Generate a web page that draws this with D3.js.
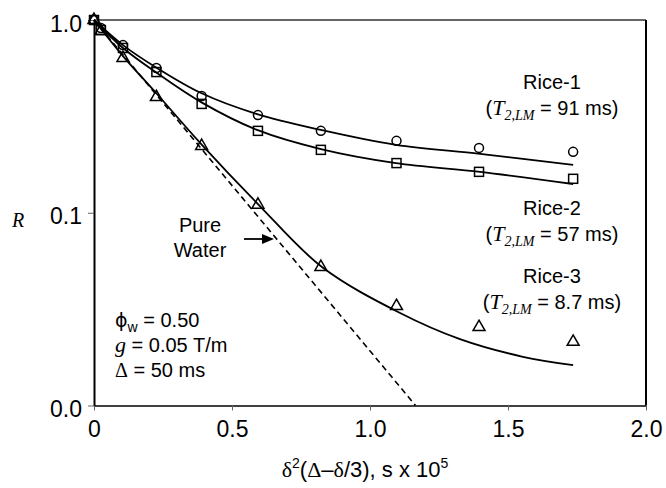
<!DOCTYPE html>
<html><head><meta charset="utf-8">
<script src="https://cdn.jsdelivr.net/npm/d3@7"></script>
<style>body{margin:0;background:#fff}svg{display:block}</style>
</head><body>
<svg id="c" width="666" height="488"></svg>
<script>
// ---- data ----
const xTicks = [0, 0.5, 1.0, 1.5, 2.0];
const xTickLabels = ["0", "0.5", "1.0", "1.5", "2.0"];
const yTicks = [1, 0.1, 0.01];
const yTickLabels = ["1.0", "0.1", "0.0"];

const xData = [0, 0.025, 0.105, 0.226, 0.390, 0.594, 0.822, 1.096, 1.395, 1.736];
const rice1 = [1.0, 0.909, 0.741, 0.564, 0.403, 0.321, 0.266, 0.236, 0.217, 0.207];
const rice2 = [1.0, 0.887, 0.716, 0.537, 0.367, 0.266, 0.212, 0.181, 0.163, 0.150];
const rice3 = [1.0, 0.877, 0.635, 0.398, 0.222, 0.110, 0.0523, 0.0328, 0.0255, 0.0214];

const fitX1 = [0, 0.105, 0.228, 0.388, 0.591, 0.822, 1.094, 1.399, 1.736];
const fit1 = [1.0, 0.741, 0.564, 0.418, 0.325, 0.269, 0.225, 0.202, 0.177];
const fitX2 = [0, 0.105, 0.228, 0.388, 0.591, 0.822, 1.094, 1.399, 1.736];
const fit2 = [1.0, 0.716, 0.531, 0.375, 0.269, 0.214, 0.181, 0.163, 0.141];
const fitX3 = [0, 0.105, 0.225, 0.391, 0.594, 0.826, 1.109, 1.326, 1.554, 1.736];
const fit3 = [1.0, 0.650, 0.418, 0.225, 0.111, 0.0523, 0.0302, 0.0221, 0.0179, 0.0162];

const pureWaterX = [0, 1.165];
const pureWaterR = [1.0, 0.01];

// ---- layout ----
const svg = d3.select("#c");
const x = d3.scaleLinear().domain([0, 2]).range([94, 646]);
const y = d3.scaleLog().domain([0.01, 1]).range([405.5, 20]);
const SANS = "'Liberation Sans', Arial, sans-serif";
const SERIF = "'Liberation Serif', 'Times New Roman', serif";

// frame
svg.append("line").attr("x1", 94).attr("x2", 646).attr("y1", 20).attr("y2", 20)
  .attr("stroke", "#333").attr("stroke-width", 1.5);
svg.append("line").attr("x1", 646).attr("x2", 646).attr("y1", 20).attr("y2", 405.5)
  .attr("stroke", "#000").attr("stroke-width", 2);

// axes
const xAxis = d3.axisBottom(x).tickValues(xTicks)
  .tickFormat((d, i) => xTickLabels[i]).tickSize(5).tickSizeOuter(0).tickPadding(10);
const gx = svg.append("g").attr("transform", "translate(0,405.5)").call(xAxis);
gx.select(".domain").attr("stroke", "#000").attr("stroke-width", 1.5);
gx.selectAll(".tick line").attr("stroke", "#666");
gx.selectAll("text").attr("font-family", SANS).attr("font-size", 23).attr("fill", "#000");

const yAxis = d3.axisLeft(y).tickValues(yTicks)
  .tickFormat((d, i) => yTickLabels[i]).tickSize(6).tickSizeOuter(0).tickPadding(6);
const gy = svg.append("g").attr("transform", "translate(94,0)").call(yAxis);
gy.select(".domain").attr("stroke", "#000").attr("stroke-width", 2);
gy.selectAll(".tick line").attr("stroke", "#666");
gy.selectAll("text").attr("font-family", SANS).attr("font-size", 23).attr("fill", "#000")
  .attr("dy", "0.48em");

// axis titles
const xt = svg.append("text").attr("x", 365).attr("y", 477).attr("text-anchor", "middle")
  .attr("font-family", SANS).attr("font-size", 22);
xt.append("tspan").attr("font-family", SERIF).text("δ");
xt.append("tspan").attr("font-size", 14).attr("dy", -9).text("2");
xt.append("tspan").attr("dy", 9).text("(");
xt.append("tspan").attr("font-family", SERIF).text("Δ");
xt.append("tspan").text("–");
xt.append("tspan").attr("font-family", SERIF).text("δ");
xt.append("tspan").text("/3), s x 10");
xt.append("tspan").attr("font-size", 14).attr("dy", -9).text("5");

svg.append("text").attr("x", 18).attr("y", 227).attr("text-anchor", "middle")
  .attr("font-family", SERIF).attr("font-style", "italic").attr("font-size", 20).text("R");

// pure water line
const pw = pureWaterX.map((d, i) => [d, pureWaterR[i]]);
svg.append("path").datum(pw)
  .attr("d", d3.line().x(d => x(d[0])).y(d => y(d[1])))
  .attr("fill", "none").attr("stroke", "#000").attr("stroke-width", 1.6)
  .attr("stroke-dasharray", "6,4");

// fitted curves
const line = d3.line().x(d => x(d[0])).y(d => y(d[1])).curve(d3.curveCatmullRom.alpha(0.5));
[[fitX1, fit1], [fitX2, fit2], [fitX3, fit3]].forEach(([xs, ys]) => {
  svg.append("path").datum(xs.map((d, i) => [d, ys[i]]))
    .attr("d", line).attr("fill", "none").attr("stroke", "#000").attr("stroke-width", 1.8);
});

// markers
const mk = svg.append("g").attr("fill", "#fff").attr("stroke", "#000").attr("stroke-width", 1.5);
mk.selectAll(".c").data(xData.map((d, i) => [d, rice1[i]])).join("circle")
  .attr("cx", d => x(d[0])).attr("cy", d => y(d[1])).attr("r", 4.5).attr("fill", "none");
mk.selectAll(".s").data(xData.map((d, i) => [d, rice2[i]])).join("rect")
  .attr("x", d => x(d[0]) - 4.5).attr("y", d => y(d[1]) - 4.5).attr("width", 9).attr("height", 9)
  .attr("fill", "none");
const tri = d3.symbol().type(d3.symbolTriangle).size(62);
mk.selectAll(".t").data(xData.map((d, i) => [d, rice3[i]])).join("path")
  .attr("d", tri).attr("transform", d => `translate(${x(d[0])},${y(d[1])})`).attr("fill", "none");

// annotations
function riceLabel(cx, y1, name, val) {
  svg.append("text").attr("x", cx).attr("y", y1).attr("text-anchor", "middle")
    .attr("font-family", SANS).attr("font-size", 20).text(name);
  const t = svg.append("text").attr("x", cx).attr("y", y1 + 26).attr("text-anchor", "middle")
    .attr("font-family", SANS).attr("font-size", 20);
  t.append("tspan").text("(");
  t.append("tspan").attr("font-family", SERIF).attr("font-style", "italic").attr("font-size", 22).text("T");
  t.append("tspan").attr("font-family", SERIF).attr("font-style", "italic").attr("font-size", 14)
    .attr("dy", 5).text("2,LM");
  t.append("tspan").attr("dy", -5).text(" = " + val + ")");
}
riceLabel(552, 89, "Rice-1", "91 ms");
riceLabel(552, 215, "Rice-2", "57 ms");
riceLabel(552, 283, "Rice-3", "8.7 ms");

svg.append("text").attr("x", 200).attr("y", 232).attr("text-anchor", "middle")
  .attr("font-family", SANS).attr("font-size", 20).text("Pure");
svg.append("text").attr("x", 200).attr("y", 257).attr("text-anchor", "middle")
  .attr("font-family", SANS).attr("font-size", 20).text("Water");
svg.append("line").attr("x1", 244).attr("x2", 264).attr("y1", 239).attr("y2", 239)
  .attr("stroke", "#000").attr("stroke-width", 1.8);
svg.append("path").attr("d", "M274,239 L262,234 L262,244 Z").attr("fill", "#000");

const a1 = svg.append("text").attr("x", 115).attr("y", 327).attr("font-family", SANS).attr("font-size", 20);
a1.append("tspan").attr("font-family", "'DejaVu Sans', sans-serif").attr("font-size", 19).text("ϕ");
a1.append("tspan").attr("font-size", 14).attr("dy", 5).text("w");
a1.append("tspan").attr("dy", -5).text(" = 0.50");
const a2 = svg.append("text").attr("x", 115).attr("y", 352).attr("font-family", SANS).attr("font-size", 20);
a2.append("tspan").attr("font-family", SERIF).attr("font-style", "italic").attr("font-size", 22).text("g");
a2.append("tspan").text(" = 0.05 T/m");
const a3 = svg.append("text").attr("x", 115).attr("y", 377).attr("font-family", SANS).attr("font-size", 20);
a3.append("tspan").attr("font-family", SERIF).attr("font-size", 20).text("Δ");
a3.append("tspan").text(" = 50 ms");
</script>
</body></html>
